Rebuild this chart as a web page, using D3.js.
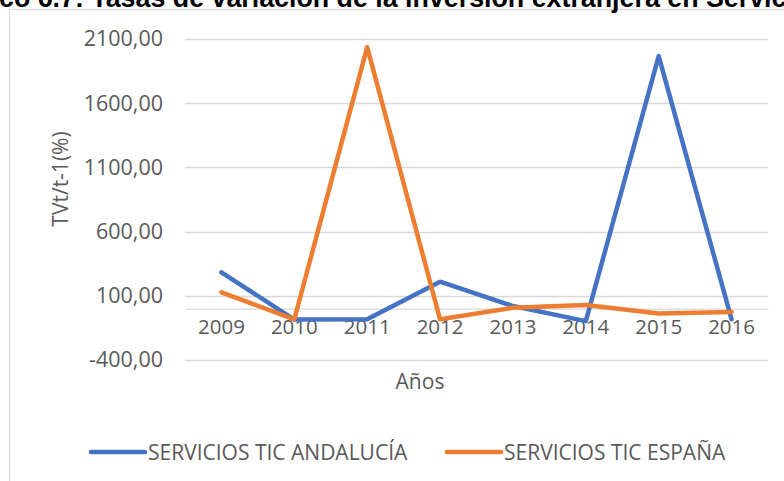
<!DOCTYPE html>
<html><head><meta charset="utf-8">
<script src="https://cdn.jsdelivr.net/npm/d3@7"></script>
<style>body{margin:0;background:#fff}svg{display:block}</style>
</head><body>
<script>
const years = ["2009","2010","2011","2012","2013","2014","2015","2016"];
const andalucia = [283, -85, -83, 210, 20, -97, 1967, -83];
const espana = [127, -83, 2037, -83, 7, 28, -37, -26];
const yTicks = [-400, 100, 600, 1100, 1600, 2100];
const seriesNames = ["SERVICIOS TIC ANDALUCÍA", "SERVICIOS TIC ESPAÑA"];
const colors = ["#4472C4", "#ED7D31"];
const titleText = "Gráfico 6.7: Tasas de variación de la inversión extranjera en Servicios TIC";

const W = 784, H = 481;
const svg = d3.select("body").append("svg").attr("width", W).attr("height", H);
const font = "'Open Sans', sans-serif";
const txt = "#595959";

// frame
svg.append("rect").attr("x", 9.5).attr("y", 9.5).attr("width", 800).attr("height", 500)
  .attr("fill", "#fff").attr("stroke", "#d9d9d9").attr("stroke-width", 1.3);

// title (cut off at top, as in the reference)
const t = svg.append("text").attr("font-family", "'Liberation Sans', Arial, sans-serif")
  .attr("font-weight", "bold").attr("font-size", 21).attr("fill", "#000").attr("y", 7).text(titleText);
{
  const full = t.node();
  const visLen = full.getSubStringLength(5, 63);
  const fs = 21 * 788 / visLen;
  t.attr("font-size", fs);
  const pre = full.getSubStringLength(0, 5);
  t.attr("x", -pre - 1);
}

const x = d3.scaleBand().domain(years).range([185, 768]);
const y = d3.scaleLinear().domain([-400, 2100]).range([360, 39]);

// gridlines
svg.append("g").selectAll("line").data(yTicks).join("line")
  .attr("x1", 185).attr("x2", 768).attr("y1", d => Math.round(y(d)) + 0.5).attr("y2", d => Math.round(y(d)) + 0.5)
  .attr("stroke", "#d9d9d9").attr("stroke-width", 1.3);

// y axis labels
const yAxis = d3.axisLeft(y).tickValues(yTicks).tickSize(0).tickPadding(0)
  .tickFormat(d => d3.format(".2f")(d).replace(".", ",").replace("\u2212", "-"));
const ya = svg.append("g").attr("transform", "translate(163,0)").call(yAxis);
ya.select(".domain").remove();
ya.selectAll("text").attr("font-family", font).attr("font-size", 21.5).attr("fill", txt);

// x axis at zero
const xa = svg.append("g").attr("transform", `translate(0,${y(0)})`)
  .call(d3.axisBottom(x).tickSize(0).tickPadding(11));
xa.select(".domain").attr("stroke", "#d9d9d9").attr("stroke-width", 1.3);
xa.selectAll("text").attr("font-family", font).attr("font-size", 20.5).attr("fill", txt);

// lines
const line = d3.line().x((d, i) => x(years[i]) + x.bandwidth() / 2).y(d => y(d));
[andalucia, espana].forEach((s, k) => {
  svg.append("path").datum(s).attr("d", line).attr("fill", "none")
    .attr("stroke", colors[k]).attr("stroke-width", 4.5)
    .attr("stroke-linejoin", "round").attr("stroke-linecap", "round");
});

// axis titles
svg.append("text").attr("transform", "translate(68,179) rotate(-90)").attr("text-anchor", "middle")
  .attr("font-family", font).attr("font-size", 21).attr("fill", txt).text("TVt/t-1(%)");
svg.append("text").attr("x", 420).attr("y", 389).attr("text-anchor", "middle")
  .attr("font-family", font).attr("font-size", 21).attr("fill", txt).text("Años");

// legend
const legX = [89, 445];
seriesNames.forEach((n, k) => {
  svg.append("line").attr("x1", legX[k] + 2).attr("x2", legX[k] + 56).attr("y1", 452).attr("y2", 452)
    .attr("stroke", colors[k]).attr("stroke-width", 4.5).attr("stroke-linecap", "round");
  svg.append("text").attr("x", legX[k] + 59).attr("y", 459.5).attr("font-family", font)
    .attr("font-size", 21).attr("fill", txt).text(n);
});
</script>
</body></html>
